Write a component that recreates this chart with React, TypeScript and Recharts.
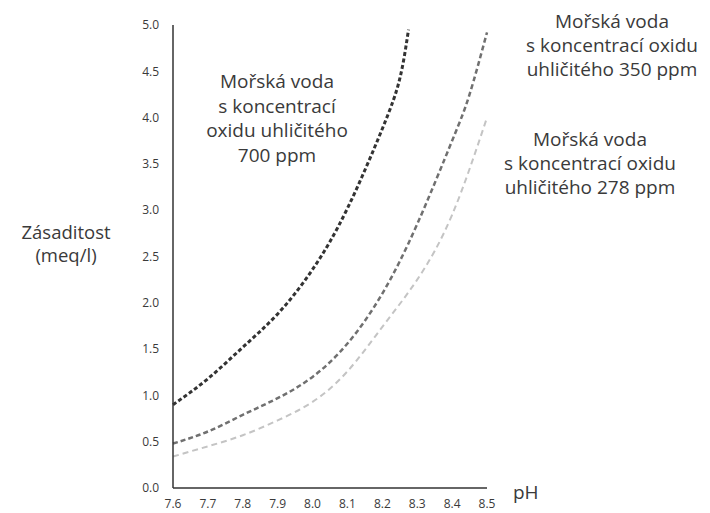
import React from "react";
import { LineChart, Line, XAxis, YAxis } from "recharts";

// pH points and alkalinity (meq/l)
const PH_700 = [7.6, 7.7, 7.8, 7.9, 8.0, 8.1, 8.2, 8.25, 8.275];
const ALK_700 = [0.9, 1.18, 1.52, 1.88, 2.36, 3.02, 3.88, 4.42, 4.95];

const PH_350 = [7.6, 7.7, 7.8, 7.9, 8.0, 8.1, 8.2, 8.3, 8.4, 8.45, 8.5];
const ALK_350 = [0.48, 0.61, 0.79, 0.97, 1.2, 1.56, 2.1, 2.85, 3.75, 4.25, 4.92];

const PH_278 = [7.6, 7.7, 7.8, 7.9, 8.0, 8.1, 8.2, 8.3, 8.4, 8.5];
const ALK_278 = [0.34, 0.45, 0.57, 0.73, 0.93, 1.26, 1.74, 2.25, 2.95, 4.0];

const X_TICKS = [7.6, 7.7, 7.8, 7.9, 8.0, 8.1, 8.2, 8.3, 8.4, 8.5];
const Y_TICKS = [0, 0.5, 1, 1.5, 2, 2.5, 3, 3.5, 4, 4.5, 5];

const LABEL_700 = ["Mořská voda", "s koncentrací", "oxidu uhličitého", "700 ppm"];
const LABEL_350 = ["Mořská voda", "s koncentrací oxidu", "uhličitého 350 ppm"];
const LABEL_278 = ["Mořská voda", "s koncentrací oxidu", "uhličitého 278 ppm"];

const toRows = (xs: number[], ys: number[]) => xs.map((ph, i) => ({ ph, alk: ys[i] }));

const FONT = "'Open Sans', 'DejaVu Sans', sans-serif";
const TEXT = "#3a3a3a";

function Note({ lines, cx, top, lh = 24.5, size = 19 }: { lines: string[]; cx: number; top: number; lh?: number; size?: number }) {
  return (
    <div
      style={{
        position: "absolute",
        left: cx - 120,
        top,
        width: 240,
        textAlign: "center",
        fontSize: size,
        lineHeight: `${lh}px`,
        color: TEXT,
        fontFamily: FONT,
      }}
    >
      {lines.map((l, i) => (
        <div key={i}>{l}</div>
      ))}
    </div>
  );
}

export default function App() {
  const tick = { fontSize: 12, fill: TEXT, fontFamily: FONT };
  return (
    <div style={{ position: "absolute", left: 0, top: 0, width: 710, height: 513, background: "#fff" }}>
      <LineChart width={710} height={513} margin={{ top: 25, right: 223, bottom: 0, left: 133 }}>
        <XAxis
          type="number"
          dataKey="ph"
          domain={[7.6, 8.5]}
          ticks={X_TICKS}
          tickFormatter={(v: number) => v.toFixed(1)}
          tick={tick}
          tickLine={false}
          axisLine={{ stroke: "#333", strokeWidth: 1.5 }}
          height={25}
          tickMargin={5}
          allowDuplicatedCategory={false}
        />
        <YAxis
          type="number"
          domain={[0, 5]}
          ticks={Y_TICKS}
          tickFormatter={(v: number) => v.toFixed(1)}
          tick={tick}
          tickLine={false}
          axisLine={{ stroke: "#333", strokeWidth: 1.5 }}
          width={40}
          tickMargin={8}
        />
        <Line
          data={toRows(PH_278, ALK_278)}
          dataKey="alk"
          type="natural"
          stroke="#c4c4c4"
          strokeWidth={2}
          strokeDasharray="6 4"
          dot={false}
          isAnimationActive={false}
        />
        <Line
          data={toRows(PH_350, ALK_350)}
          dataKey="alk"
          type="natural"
          stroke="#707070"
          strokeWidth={2.5}
          strokeDasharray="5 3"
          dot={false}
          isAnimationActive={false}
        />
        <Line
          data={toRows(PH_700, ALK_700)}
          dataKey="alk"
          type="natural"
          stroke="#333"
          strokeWidth={3}
          strokeDasharray="4 2.5"
          dot={false}
          isAnimationActive={false}
        />
      </LineChart>
      <Note lines={LABEL_700} cx={277} top={69} />
      <Note lines={LABEL_350} cx={612} top={9} lh={24} />
      <Note lines={LABEL_278} cx={590} top={127} lh={24} />
      <Note lines={["Zásaditost", "(meq/l)"]} cx={66} top={220} lh={23} size={18.5} />
      <div
        style={{
          position: "absolute",
          left: 513,
          top: 480,
          fontSize: 19,
          color: TEXT,
          fontFamily: FONT,
          lineHeight: "24px",
        }}
      >
        pH
      </div>
    </div>
  );
}
